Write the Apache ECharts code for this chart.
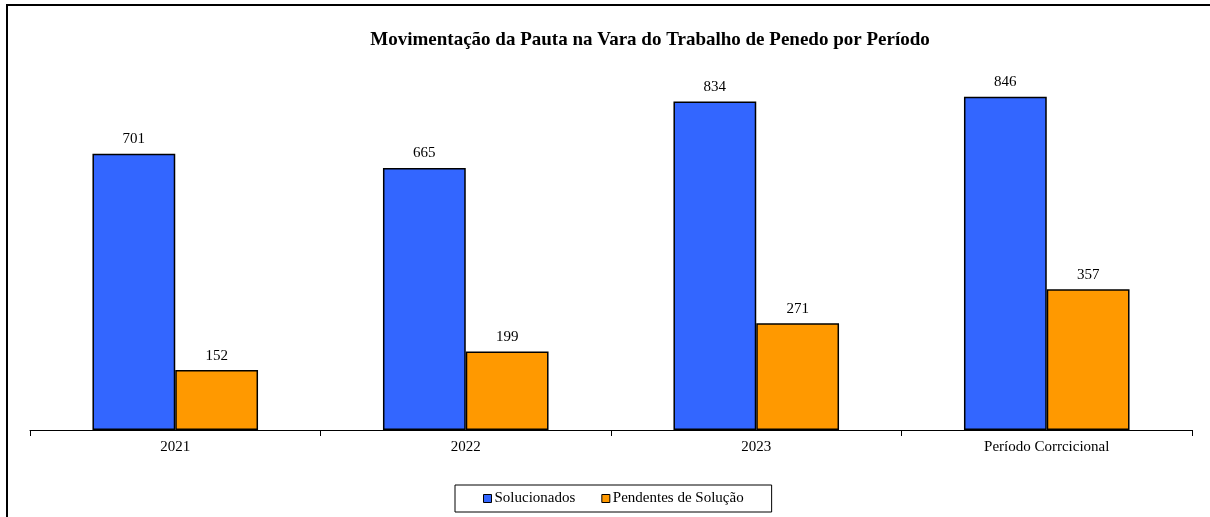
<!DOCTYPE html>
<html>
<head>
<meta charset="utf-8">
<script src="https://cdn.jsdelivr.net/npm/echarts@6/dist/echarts.min.js"></script>
<style>
  html, body { margin: 0; padding: 0; background: #fff; }
  #frame { position: absolute; left: 6px; top: 4px; width: 1204px; height: 513px;
           border-left: 2px solid #000; border-top: 2px solid #000; box-sizing: border-box; }
  #chart-box { position: absolute; left: 0; top: 0; width: 1210px; height: 517px; }
</style>
</head>
<body>
<div id="frame"></div>
<div id="chart-box"></div>
<script>
// dados do gráfico
const categorias = ['2021', '2022', '2023', 'Período Corrcicional']
const solucionados = [701, 665, 834, 846]
const pendentes = [152, 199, 271, 357]
const nomesSeries = ['Solucionados', 'Pendentes de Solução']

const serif = '"Liberation Serif", "DejaVu Serif", serif'

let barChart = echarts.init(document.getElementById('chart-box'))
barChart.setOption({
    animation: false,
    title: {
        text: 'Movimentação da Pauta na Vara do Trabalho de Penedo por Período',
        left: 645,
        textAlign: 'center',
        top: 26,
        textStyle: {fontFamily: serif, fontSize: 19, fontWeight: 'bold', color: '#000'}
    },
    legend: {
        data: nomesSeries,
        bottom: 5,
        left: 455,
        icon: 'rect',
        itemWidth: 8,
        itemHeight: 8,
        itemGap: 26,
        padding: [6, 28, 6, 28],
        borderColor: '#000',
        borderWidth: 1,
        itemStyle: {borderColor: '#000', borderWidth: 1},
        textStyle: {fontFamily: serif, fontSize: 15, color: '#000', padding: [0, 0, 0, -2]}
    },
    grid: {left: 30, right: 18, top: 36, bottom: 87},
    xAxis: {
        type: 'category',
        data: categorias,
        axisLine: {lineStyle: {color: '#000', width: 1}},
        axisTick: {show: true, length: 6, lineStyle: {color: '#000'}},
        axisLabel: {fontFamily: serif, fontSize: 15, color: '#000', margin: 10}
    },
    yAxis: {
        type: 'value',
        min: 0,
        max: 1000,
        show: false,
        splitLine: {show: false}
    },
    series: [
        {
            name: nomesSeries[0],
            type: 'bar',
            data: solucionados,
            barGap: '0%',
            barCategoryGap: '43%',
            itemStyle: {color: '#3366FF', borderColor: '#000', borderWidth: 1.5},
            label: {show: true, position: 'top', distance: 7, fontFamily: serif, fontSize: 15, color: '#000'}
        },
        {
            name: nomesSeries[1],
            type: 'bar',
            data: pendentes,
            itemStyle: {color: '#FF9900', borderColor: '#000', borderWidth: 1.5},
            label: {show: true, position: 'top', distance: 7, fontFamily: serif, fontSize: 15, color: '#000'}
        }
    ]
})
</script>
</body>
</html>
